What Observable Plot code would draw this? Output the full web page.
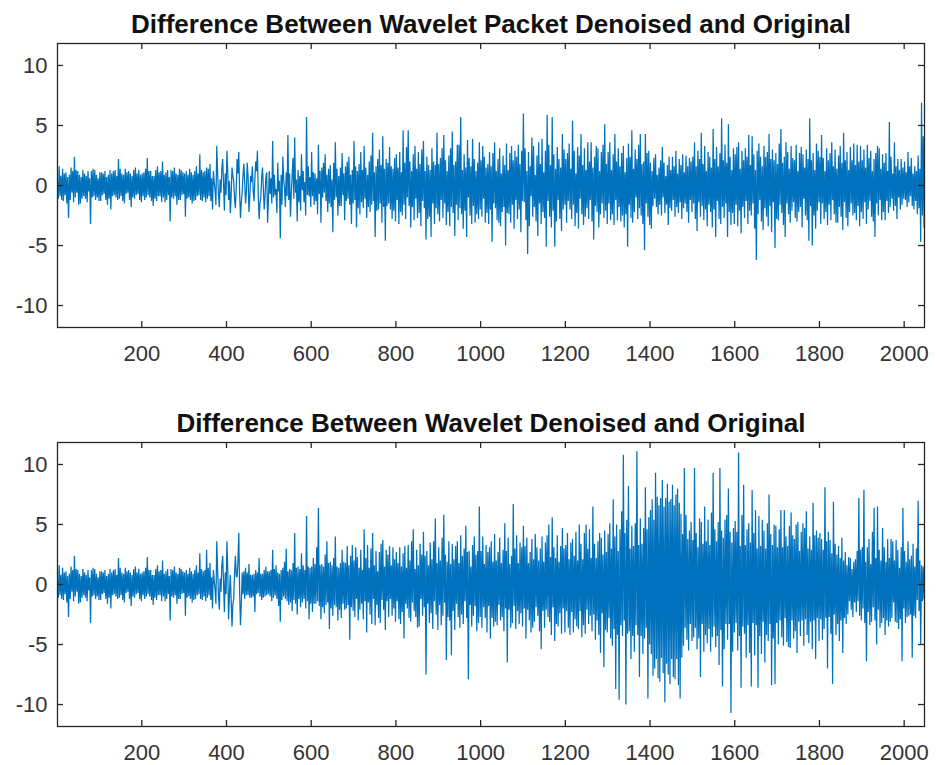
<!DOCTYPE html>
<html><head><meta charset="utf-8">
<script src="https://cdn.jsdelivr.net/npm/d3@7"></script>
<script src="https://cdn.jsdelivr.net/npm/@observablehq/plot@0.6"></script>
<style>
body{margin:0;background:#fff;}
#chart svg{display:block;}
</style></head><body><div id="chart"></div>
<script>
const firstSample = 1;
const sampleStep = 2;
const xDomain = [1, 2048];
const yDomain = [-11.83, 11.83];
const xTicks = [200, 400, 600, 800, 1000, 1200, 1400, 1600, 1800, 2000];
const yTicks = [-10, -5, 0, 5, 10];
const titles = ["Difference Between Wavelet Packet Denoised and Original", "Difference Between Wavelet Denoised and Original"];

// Wavelet packet denoised minus original, read every 2nd sample
const packetDiff = [
0.3,-1.1,1.6,-0.9,0.8,-1.2,1.4,-1.3,1.0,-0.8,1.1,-1.5,0.7,-2.7,0.9,-1.2,1.5,-0.6,1.2,-1.4,2.4,-1.0,1.3,-0.6,1.2,-1.6,0.9,-1.5,0.7,-1.1,1.3,-0.9,1.0,-1.1,0.8,-1.4,1.2,-0.5,0.6,-3.2,1.2,-1.0,1.4,-0.9,1.3,-1.2,0.9,-1.0,0.6,-1.3,
1.1,-1.3,1.1,-0.8,1.0,-0.7,1.2,-1.2,0.7,-1.6,0.9,-1.1,1.3,-2.0,1.0,-0.9,1.2,-0.8,1.3,-1.0,0.8,-1.2,2.2,-1.1,1.4,-0.9,1.0,-1.3,0.9,-1.5,1.4,-0.7,1.1,-0.6,1.2,-1.2,1.0,-1.8,0.8,-1.0,1.3,-1.1,1.5,-0.8,1.0,-0.7,1.3,-1.2,0.9,-1.4,
1.0,-0.9,1.1,-1.2,1.4,-1.0,2.3,-0.8,1.2,-1.0,1.2,-1.3,0.8,-1.7,0.8,-1.1,1.3,-1.3,1.6,-0.9,1.1,-0.9,1.2,-1.4,2.0,-1.0,0.9,-1.4,1.1,-1.2,1.3,-0.8,0.7,-3.0,1.3,-1.0,1.2,-1.1,1.5,-0.9,1.0,-1.6,0.9,-1.2,1.4,-1.2,1.3,-0.8,1.1,-0.7,
1.0,-2.6,1.2,-1.1,0.9,-1.0,1.4,-1.2,1.1,-1.5,0.9,-1.3,1.2,-1.2,1.6,-0.9,1.0,-0.8,2.6,-1.2,1.3,-1.3,1.1,-1.0,1.2,-1.4,1.5,-1.1,1.4,-0.9,1.8,-1.3,0.6,-2.0,1.2,0.3,-0.4,-1.6,3.3,1.1,-0.7,-1.8,0.5,-0.6,1.4,2.2,0.2,-2.1,1.0,-0.8,
2.9,1.1,-1.2,0.4,-2.3,-0.9,1.5,0.8,0.4,-1.1,-1.9,-0.2,2.2,1.0,2.8,-0.6,-2.7,-1.4,-0.6,0.9,1.8,0.2,-1.5,-0.5,1.9,0.7,-2.2,-1.0,0.8,0.3,1.6,-0.4,-1.3,0.5,2.0,1.2,2.9,-0.8,-2.8,-1.5,-1.0,0.6,1.5,-0.2,-2.0,-0.9,0.7,1.1,-3.1,-1.2,
1.2,-0.7,0.6,-1.5,3.7,-1.0,0.9,-0.8,-0.3,-2.3,1.9,-0.5,0.4,-4.4,0.9,-1.6,2.4,0.5,-0.2,-1.8,1.1,-0.9,4.2,-1.2,1.0,-2.6,-0.7,0.8,2.3,-1.1,4.0,-0.6,0.5,-3.0,1.3,-1.4,0.8,-2.1,2.6,-0.4,1.2,-1.4,0.3,-2.5,5.7,-0.8,1.6,-0.9,0.7,-1.8,
2.8,-0.9,1.1,-1.6,1.0,-1.3,0.6,-2.4,3.4,-0.7,1.2,-3.1,1.5,-1.0,1.9,-0.6,2.6,-1.3,0.9,-2.2,1.4,-1.5,1.7,-1.8,0.5,-3.9,1.9,-1.2,3.6,-1.0,1.4,-2.5,0.8,-1.7,1.5,-1.7,2.7,-0.8,1.0,-2.9,1.6,-1.3,2.0,-1.1,2.4,-1.6,0.9,-3.2,1.3,-1.5,
3.7,-1.2,1.6,-3.5,1.2,-1.9,1.8,-2.4,2.8,-1.4,1.3,-1.9,3.3,-1.1,1.5,-2.7,0.9,-1.8,2.0,-2.2,2.5,-1.6,4.4,-1.3,1.1,-4.3,1.6,-2.1,2.2,-2.0,3.0,-1.5,1.7,-3.1,4.1,-1.8,1.4,-4.6,2.2,-1.7,1.9,-1.5,3.2,-2.0,1.6,-2.8,1.4,-2.1,2.3,-3.0,
2.6,-1.2,1.5,-3.2,2.8,-2.2,1.1,-2.5,4.6,-1.6,1.9,-2.8,3.2,-1.0,4.6,-1.7,2.0,-3.5,1.2,-1.8,2.6,-2.9,3.3,-1.1,1.4,-2.7,2.8,-2.3,1.8,-3.4,3.0,-1.3,3.7,-1.9,1.2,-4.5,2.4,-2.8,1.7,-2.6,1.3,-4.3,3.1,-1.5,2.0,-3.2,1.7,-1.9,4.4,-2.4,
1.8,-3.0,2.3,-1.2,3.1,-2.7,4.2,-1.5,2.1,-3.3,1.2,-2.2,2.5,-3.4,3.1,-1.8,4.5,-2.3,1.7,-4.2,2.0,-1.6,3.4,-2.9,3.4,-1.9,5.7,-2.4,1.3,-3.6,2.6,-2.1,1.5,-4.3,3.8,-1.0,2.3,-2.5,1.6,-3.2,3.9,-1.7,2.2,-3.1,1.2,-2.4,1.9,-2.8,3.6,-2.0,
2.1,-2.6,3.3,-1.1,2.4,-3.1,1.5,-2.3,1.8,-3.2,2.8,-2.0,1.6,-4.7,2.7,-1.5,3.6,-1.9,1.2,-2.9,2.2,-3.1,3.1,-3.4,1.0,-2.2,2.5,-1.8,1.7,-5.0,3.5,-2.3,1.3,-2.4,2.7,-3.1,3.3,-1.6,2.1,-3.6,2.9,-1.2,2.4,-2.8,3.4,-2.0,1.8,-3.9,2.9,-1.3,
6.0,-1.4,3.1,-2.9,1.2,-5.7,2.8,-3.4,1.6,-0.9,4.0,-2.6,3.3,-1.8,0.9,-3.0,2.5,-4.2,3.6,-1.5,1.8,-3.2,3.9,-2.2,1.1,-2.7,2.9,-5.1,5.9,-1.3,3.4,-2.6,1.7,-3.5,5.7,-2.1,2.6,-5.1,1.4,-3.0,3.2,-1.2,2.2,-2.8,1.5,-3.8,4.3,-2.0,3.0,-1.6,
2.2,-3.1,2.7,-1.3,3.5,-2.0,1.4,-2.8,5.4,-1.6,2.9,-3.4,1.0,-2.3,3.2,-3.6,2.5,-1.1,4.3,-2.4,1.7,-3.3,3.1,-2.6,1.3,-1.9,3.6,-2.8,2.0,-1.2,3.6,-3.0,1.5,-4.5,2.4,-1.7,3.3,-2.2,3.1,-3.5,1.2,-2.4,2.8,-1.5,3.4,-2.7,5.1,-2.1,1.8,-3.2,
2.8,-1.5,3.6,-2.9,1.3,-2.4,2.6,-3.3,4.3,-1.2,2.0,-2.9,3.1,-1.8,1.6,-3.0,2.7,-2.5,3.3,-3.5,1.1,-2.4,2.3,-5.1,3.5,-1.6,2.4,-2.7,4.6,-3.1,1.4,-2.2,3.0,-1.0,2.2,-2.8,3.4,-1.9,4.3,-2.5,1.8,-3.2,2.0,-5.4,4.3,-1.5,2.7,-2.6,2.9,-3.3,
1.9,-3.6,1.2,-1.7,2.3,-1.1,2.6,-1.8,0.9,-2.4,1.5,-1.6,2.1,-2.5,3.2,-1.0,1.9,-2.3,0.8,-1.6,1.7,-3.3,2.4,-1.9,1.3,-2.1,2.4,-1.2,1.6,-2.6,2.9,-1.8,1.0,-2.3,2.2,-1.4,1.7,-2.8,2.6,-1.9,1.1,-1.5,2.5,-2.2,1.6,-3.1,2.3,-1.2,2.0,-2.2,
2.4,-1.5,3.6,-2.8,1.6,-3.8,2.9,-1.4,2.2,-2.6,4.4,-1.7,1.8,-2.9,3.3,-2.0,1.2,-3.4,2.8,-1.6,2.4,-2.2,1.5,-3.5,4.7,-2.0,2.2,-4.3,3.2,-1.3,1.6,-2.8,2.7,-3.2,5.6,-1.8,2.1,-2.7,3.4,-1.5,1.9,-4.3,5.1,-2.2,2.4,-3.3,1.3,-2.3,3.1,-3.2,
2.6,-1.6,3.2,-3.4,3.6,-2.1,1.4,-4.0,2.9,-1.8,2.1,-2.7,3.1,-1.3,2.4,-3.2,4.2,-2.1,1.7,-2.5,4.1,-1.5,2.6,-3.6,1.3,-6.2,2.9,-2.4,3.5,-1.2,2.4,-3.0,1.6,-3.7,3.3,-1.9,2.4,-2.6,2.8,-3.4,4.3,-1.7,2.2,-3.9,3.0,-1.4,2.1,-5.2,2.7,-2.8,
1.8,-2.9,3.5,-1.6,4.7,-2.3,1.9,-3.3,2.4,-4.3,3.6,-1.5,2.8,-2.4,1.4,-3.1,3.3,-2.1,2.3,-1.4,2.1,-2.7,3.4,-3.0,1.2,-2.2,2.7,-1.8,3.2,-3.5,2.6,-1.1,1.5,-2.5,3.0,-2.9,2.2,-4.6,5.6,-1.7,2.1,-5.0,2.7,-2.5,1.3,-3.6,3.5,-2.1,2.9,-1.4,
2.4,-3.2,4.2,-1.5,2.3,-2.8,1.2,-2.2,3.1,-3.3,2.1,-1.6,2.7,-2.9,3.6,-1.2,1.6,-2.4,3.0,-3.1,1.4,-3.1,2.5,-1.8,3.3,-2.6,1.9,-3.7,4.4,-1.4,2.1,-2.7,2.8,-3.4,1.3,-2.2,3.2,-1.5,2.1,-2.5,3.5,-2.3,1.7,-2.9,3.4,-1.7,2.0,-3.4,3.3,-2.2,
2.1,-2.8,3.0,-1.4,1.5,-3.2,3.4,-2.0,2.3,-1.3,2.9,-2.6,1.2,-3.0,2.2,-4.3,2.7,-1.5,3.3,-2.5,3.1,-1.2,1.4,-2.9,2.6,-2.2,1.9,-2.9,2.7,-1.3,1.2,-2.3,5.3,-1.8,2.4,-1.1,1.0,-2.1,3.6,-1.7,1.6,-2.8,2.2,-1.0,1.3,-2.0,2.2,-1.6,1.5,-1.1,
2.0,-1.2,1.1,-1.8,2.8,-1.4,1.6,-0.9,2.3,-1.7,1.0,-2.0,1.6,-1.3,1.2,-2.4,2.5,-1.9,1.4,-4.7,6.9,-2.5,4.1,-3.5
];

// Wavelet denoised minus original, read every 2nd sample
const waveletDiff = [
0.3,-1.1,1.6,-0.9,0.8,-1.2,1.4,-1.3,1.0,-0.8,1.1,-1.5,0.7,-2.7,0.9,-1.2,1.5,-0.6,1.2,-1.4,2.4,-1.0,1.3,-0.6,1.2,-1.6,0.9,-1.5,0.7,-1.1,1.3,-0.9,1.0,-1.1,0.8,-1.4,1.2,-0.5,0.6,-3.2,1.2,-1.0,1.4,-0.9,1.3,-1.2,0.9,-1.0,0.6,-1.3,
1.1,-1.3,1.1,-0.8,1.0,-0.7,1.2,-1.2,0.7,-1.6,0.9,-1.1,1.3,-2.0,1.0,-0.9,1.2,-0.8,1.3,-1.0,0.8,-1.2,2.2,-1.1,1.4,-0.9,1.0,-1.3,0.9,-1.5,1.4,-0.7,1.1,-0.6,1.2,-1.2,1.0,-1.8,0.8,-1.0,1.3,-1.1,1.5,-0.8,1.0,-0.7,1.3,-1.2,0.9,-1.4,
1.0,-0.9,1.1,-1.2,1.4,-1.0,2.3,-0.8,1.2,-1.0,1.2,-1.3,0.8,-1.7,0.8,-1.1,1.3,-1.3,1.6,-0.9,1.1,-0.9,1.2,-1.4,2.0,-1.0,0.9,-1.4,1.1,-1.2,1.3,-0.8,0.7,-3.0,1.3,-1.0,1.2,-1.1,1.5,-0.9,1.0,-1.6,0.9,-1.2,1.4,-1.2,1.3,-0.8,1.1,-0.7,
1.0,-2.6,1.2,-1.1,0.9,-1.0,1.4,-1.2,1.1,-1.5,0.9,-1.3,1.2,-1.2,1.6,-0.9,1.0,-0.8,2.6,-1.2,1.3,-1.3,1.1,-1.0,1.2,-1.4,2.9,-1.1,1.4,-0.9,1.8,-1.3,0.6,-2.0,1.2,0.3,-0.4,-1.6,3.6,1.3,-0.9,-2.1,0.5,-0.6,1.6,2.4,0.2,-2.3,1.0,-0.8,
3.6,1.2,-2.9,-0.8,0.8,-1.3,-3.5,-1.7,-1.2,0.9,2.4,0.7,0.6,1.9,4.3,-0.5,-3.4,-1.6,1.0,-0.8,1.1,-1.2,1.4,-0.9,1.0,-0.9,1.7,-1.1,0.8,-1.1,0.8,-1.0,0.9,-2.3,1.2,-0.8,1.0,-0.7,2.2,-1.0,0.9,-1.3,0.9,-1.1,1.2,-1.0,1.5,-0.9,1.1,-0.8,
1.1,-1.0,1.2,-1.4,2.9,-1.1,1.3,-0.9,1.6,-1.2,1.0,-1.8,0.9,-3.1,1.2,-1.3,1.4,-1.0,1.9,-1.2,3.0,-1.4,1.1,-1.7,1.3,-1.5,1.2,-2.2,1.8,-1.3,4.3,-1.6,1.4,-2.5,1.5,-1.2,1.3,-1.9,2.6,-1.5,1.6,-1.2,1.2,-2.0,5.7,-1.4,1.5,-2.9,1.4,-1.6,
1.5,-2.3,2.2,-1.6,1.7,-1.6,3.1,-1.4,6.4,-1.8,1.6,-2.9,1.7,-1.9,1.5,-2.4,2.5,-1.7,3.6,-1.5,1.8,-3.7,1.9,-2.0,1.6,-2.6,2.2,-1.7,4.0,-1.9,1.5,-3.0,1.4,-2.1,1.8,-2.8,2.9,-1.6,1.9,-2.1,1.8,-2.0,3.2,-1.7,1.6,-4.6,2.4,-1.9,3.3,-2.2,
2.0,-2.7,3.1,-1.2,2.3,-3.0,1.4,-2.1,2.9,-1.6,1.2,-2.9,4.6,-1.4,2.2,-4.0,3.3,-1.5,1.4,-2.5,3.0,-3.3,4.3,-1.2,1.6,-3.4,2.8,-1.7,1.1,-2.8,2.7,-3.2,3.4,-1.3,3.7,-2.1,1.5,-3.8,2.9,-1.4,2.5,-2.7,3.2,-1.2,1.6,-2.6,3.1,-2.0,2.1,-3.1,
2.7,-1.4,1.8,-2.9,3.1,-3.3,1.5,-2.3,2.6,-4.5,3.2,-1.6,1.4,-2.0,3.3,-2.8,2.0,-3.1,3.6,-1.5,4.6,-2.2,1.3,-2.7,2.9,-3.6,1.6,-3.5,3.4,-1.2,2.5,-2.6,4.4,-1.9,2.4,-7.5,2.8,-1.6,1.6,-3.2,3.5,-2.4,2.1,-3.7,3.6,-1.4,5.5,-2.5,1.8,-3.8,
3.1,-1.7,2.0,-3.4,3.9,-2.6,5.8,-1.5,2.5,-6.3,1.9,-2.7,3.6,-3.0,1.7,-5.9,3.4,-2.2,2.1,-3.8,3.2,-1.6,3.6,-2.7,1.8,-3.6,4.1,-2.5,2.4,-3.3,3.0,-1.4,4.9,-2.8,2.7,-7.9,2.8,-1.7,1.5,-3.5,3.3,-2.6,4.0,-1.8,2.5,-3.9,2.8,-3.2,6.5,-2.7,
2.8,-3.6,4.0,-1.9,1.7,-2.8,3.3,-4.0,2.7,-1.8,3.1,-4.5,3.6,-2.8,1.9,-3.5,4.2,-3.1,2.0,-3.4,2.7,-1.7,3.9,-3.0,1.8,-2.7,2.9,-3.9,5.1,-2.0,2.8,-6.5,3.9,-2.1,1.7,-3.6,2.4,-3.2,6.7,-1.8,3.0,-3.7,4.1,-2.2,1.8,-3.3,3.5,-2.4,3.1,-3.5,
4.9,-2.0,3.2,-4.5,3.9,-2.1,1.8,-3.0,2.7,-4.0,3.8,-3.6,2.1,-3.1,4.2,-1.9,3.1,-2.6,2.0,-3.9,3.0,-5.4,4.0,-2.2,1.9,-3.6,3.5,-2.1,4.1,-2.7,5.0,-3.1,2.3,-4.2,5.6,-1.9,3.1,-4.7,2.2,-3.3,4.1,-3.5,1.9,-2.4,3.2,-4.1,4.7,-2.0,3.0,-4.0,
3.3,-2.2,4.3,-3.6,2.1,-4.2,3.5,-2.3,3.8,-4.0,2.4,-2.9,4.4,-3.5,2.0,-3.7,5.0,-2.2,3.4,-4.4,2.1,-3.4,4.3,-4.1,5.0,-2.1,3.0,-3.3,4.6,-2.6,2.2,-3.9,6.5,-2.5,3.4,-4.6,2.2,-3.0,3.6,-4.2,4.3,-5.7,3.9,-2.4,2.5,-6.9,4.5,-3.8,2.7,-4.0,
4.2,-2.8,5.1,-4.5,3.0,-5.1,7.1,-3.7,4.0,-8.7,5.0,-4.2,2.8,-9.6,4.6,-3.4,6.1,-4.3,10.8,-3.0,4.3,-10.0,5.4,-4.1,8.2,-3.9,3.0,-6.2,4.9,-4.3,3.2,-5.6,5.1,-3.4,11.1,-4.2,3.3,-7.7,5.5,-4.3,3.4,-5.8,4.7,-4.5,8.1,-3.6,4.6,-9.5,5.6,-5.0,
6.2,-5.8,7.1,-7.6,5.4,-7.0,9.3,-6.2,7.3,-7.8,6.6,-8.1,7.2,-6.1,8.7,-7.4,6.5,-9.8,7.2,-6.6,8.4,-7.5,6.9,-8.3,7.1,-6.2,8.3,-7.7,6.6,-7.9,7.5,-6.2,8.0,-8.4,6.8,-9.5,5.9,-6.1,4.2,-5.1,9.7,-3.6,5.8,-4.6,3.8,-5.5,4.5,-3.3,5.2,-4.7,
3.7,-4.4,9.7,-3.6,4.3,-5.4,3.1,-4.5,5.5,-7.7,5.2,-3.3,3.4,-5.6,6.5,-4.2,3.6,-4.9,5.4,-3.7,3.3,-5.6,6.0,-4.4,9.3,-3.5,4.6,-5.2,3.6,-4.3,5.2,-6.7,9.7,-3.8,4.5,-8.5,3.9,-5.4,5.4,-3.3,5.8,-4.6,8.0,-3.3,4.4,-10.7,3.5,-5.6,4.7,-4.0,
5.3,-3.2,4.4,-5.5,11.0,-4.3,3.2,-8.6,5.8,-3.5,8.3,-4.1,3.3,-6.1,4.6,-3.4,5.1,-5.7,3.5,-8.5,7.9,-3.2,4.3,-5.9,6.2,-3.4,3.0,-8.6,5.7,-4.3,3.2,-5.8,5.4,-3.1,4.5,-6.5,3.0,-4.2,5.1,-4.7,7.5,-3.3,4.2,-8.4,3.3,-4.5,5.0,-8.3,4.9,-3.2,
3.1,-5.0,4.6,-3.0,6.2,-4.4,3.1,-5.1,6.2,-2.8,4.0,-4.8,3.2,-5.2,4.9,-5.3,6.0,-3.0,4.1,-4.5,3.8,-3.9,5.0,-5.7,5.2,-3.1,2.8,-4.3,4.4,-3.0,5.1,-5.1,4.7,-2.9,6.1,-4.2,3.0,-4.9,4.0,-3.1,2.9,-5.4,6.8,-3.0,4.1,-6.2,4.5,-2.8,3.9,-4.7,
4.3,-2.9,3.8,-4.6,2.9,-3.7,8.1,-2.8,3.6,-7.0,4.4,-2.7,3.7,-4.1,2.6,-8.3,6.9,-2.5,3.4,-4.2,2.5,-3.3,3.2,-4.7,2.2,-3.0,3.9,-5.7,2.0,-2.8,2.7,-3.3,1.6,-2.5,2.3,-1.4,2.2,-2.1,1.3,-2.7,1.9,-1.5,2.1,-2.3,2.8,-1.4,7.2,-2.6,2.9,-3.0,
3.1,-2.0,7.9,-3.2,1.9,-6.4,3.1,-2.3,3.8,-3.4,1.7,-3.1,4.4,-1.9,6.4,-3.0,2.2,-5.0,6.5,-2.1,2.9,-3.6,2.0,-3.2,4.7,-2.8,3.1,-4.2,1.9,-3.0,3.8,-3.5,2.2,-3.1,3.8,-2.8,3.6,-1.5,2.0,-3.1,3.7,-3.2,2.9,-3.7,1.4,-2.9,3.1,-6.4,6.4,-2.0,
2.8,-3.2,1.9,-2.7,3.6,-2.6,2.1,-2.5,2.4,-6.1,3.4,-2.6,1.5,-2.8,3.0,-1.3,7.0,-2.2,2.0,-5.0,1.6,-1.4,1.5,-1.2
];

const W = 936, mL = 57, mR = 12;
const axisColor = "#262626";
const font = "'Liberation Sans', Arial, Helvetica, sans-serif";

function panel(values, title, height, mT, mB) {
  const data = values.map((v, i) => ({sample: firstSample + i * sampleStep, value: v}));
  const fw = W - mL - mR, fh = height - mT - mB, t = 6;
  return Plot.plot({
    width: W, height, marginTop: mT, marginBottom: mB, marginLeft: mL, marginRight: mR,
    style: {fontFamily: font, background: "white", color: axisColor, overflow: "visible"},
    x: {domain: xDomain, label: null},
    y: {domain: yDomain, label: null},
    marks: [
      Plot.lineY(data, {x: "sample", y: "value", stroke: "#0072BD", strokeWidth: 1.25, strokeLinejoin: "miter", strokeMiterlimit: 2, clip: true}),
      Plot.frame({stroke: axisColor, strokeWidth: 1.3}),
      Plot.tickX(xTicks, {x: d => d, insetTop: fh - t, stroke: axisColor, strokeWidth: 1.3}),
      Plot.tickX(xTicks, {x: d => d, insetBottom: fh - t, stroke: axisColor, strokeWidth: 1.3}),
      Plot.tickY(yTicks, {y: d => d, insetRight: fw - t, stroke: axisColor, strokeWidth: 1.3}),
      Plot.tickY(yTicks, {y: d => d, insetLeft: fw - t, stroke: axisColor, strokeWidth: 1.3}),
      Plot.axisX({ticks: xTicks, tickSize: 0, tickPadding: 18, fontSize: 22, fill: "#333", label: null, tickFormat: d => String(d)}),
      Plot.axisY({ticks: yTicks, tickSize: 0, tickPadding: 10, fontSize: 22, fill: "#333", label: null, tickFormat: d => String(d)}),
      Plot.text([title], {text: d => d, frameAnchor: "top", dy: -11, lineAnchor: "bottom", fontSize: 26, fontWeight: "bold", fill: "#111", style: {letterSpacing: "0.2px"}})
    ]
  });
}

const root = document.getElementById("chart");
root.appendChild(panel(packetDiff, titles[0], 400, 43, 73));
root.appendChild(panel(waveletDiff, titles[1], 365, 42, 39));
</script></body></html>
